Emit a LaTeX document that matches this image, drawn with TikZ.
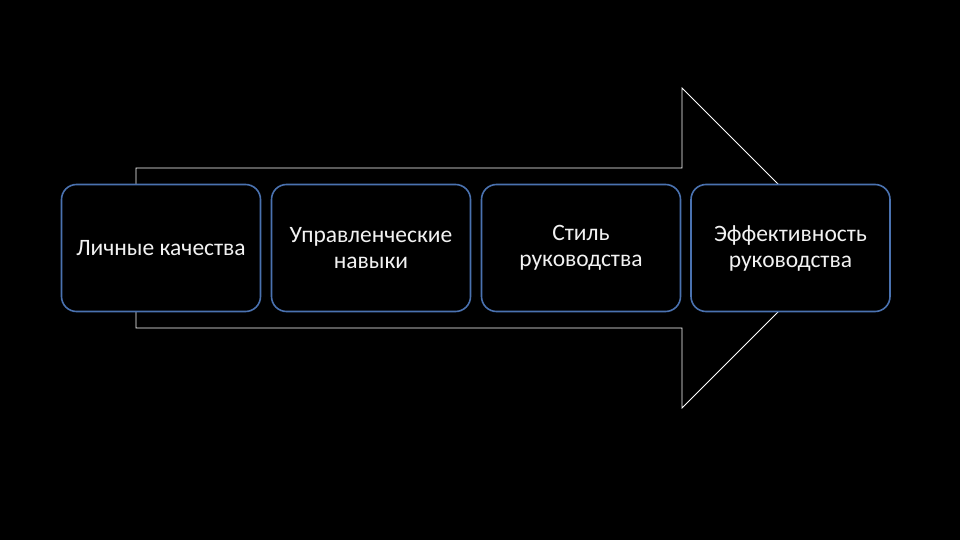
\documentclass[tikz,border=0pt]{standalone}
\usepackage{fontspec}
\setmainfont{Carlito}
\definecolor{boxblue}{HTML}{4A72B0}
\definecolor{textwhite}{HTML}{F2F2F2}
\tikzset{
  stagebox/.style={draw=boxblue, line width=1.6pt, fill=black, rounded corners=15pt,
    minimum width=199pt, minimum height=127pt, inner sep=0pt, text=textwhite,
    align=center, font=\fontsize{23.5}{26}\selectfont},
  arrowline/.style={draw=white, line width=0.8pt}
}
\begin{document}
\begin{tikzpicture}[x=1pt,y=-1pt]
\fill[black] (0,0) rectangle (960,540);
\useasboundingbox (0,0) rectangle (960,540);
\coordinate (a1) at (136,168);
\coordinate (a2) at (682,168);
\coordinate (a3) at (682,88);
\coordinate (tip) at (842,248);
\coordinate (a5) at (682,408);
\coordinate (a6) at (682,328);
\coordinate (a7) at (136,328);
\draw[arrowline] (a1) -- (a2) -- (a3) -- (tip) -- (a5) -- (a6) -- (a7) -- cycle;
\node[stagebox] (b1) at (161,248) {Личные качества};
\node[stagebox] (b2) at (371,248) {Управленческие\\навыки};
\node[stagebox] (b3) at (581,248) {Стиль\\руководства};
\node[stagebox] (b4) at (790.5,248) {Эффективность\\руководства};
\end{tikzpicture}
\end{document}
